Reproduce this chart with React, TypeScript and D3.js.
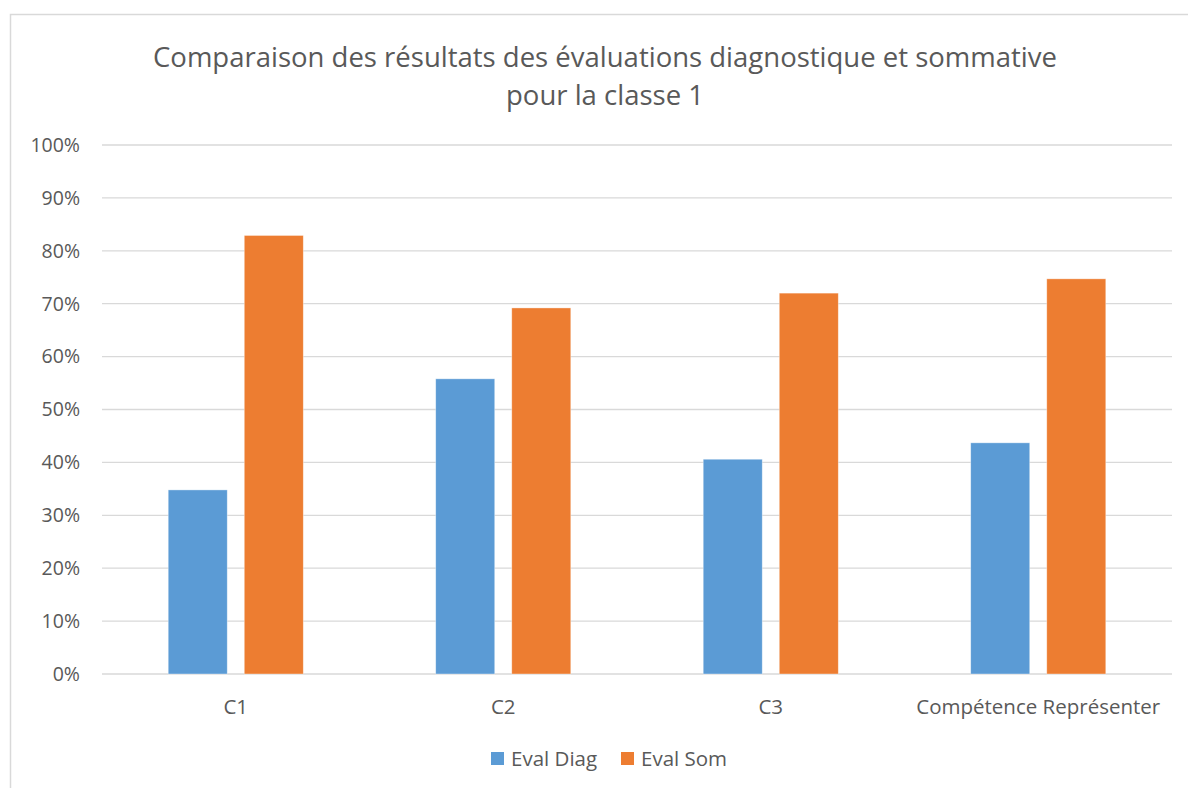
import React, { useEffect, useRef } from 'react';
import * as d3 from 'd3';

const categories = ['C1', 'C2', 'C3', 'Compétence Représenter'];
const seriesNames = ['Eval Diag', 'Eval Som'];
const evalDiag = [0.348, 0.558, 0.406, 0.437];
const evalSom = [0.829, 0.692, 0.72, 0.747];
const yTicks = [0, 0.1, 0.2, 0.3, 0.4, 0.5, 0.6, 0.7, 0.8, 0.9, 1];
const titleLines = ['Comparaison des résultats des évaluations diagnostique et sommative', 'pour la classe 1'];

const colors = ['#5B9BD5', '#ED7D31'];
const FONT = '"Open Sans", "Noto Sans", sans-serif';

const App = () => {
  const svgRef = useRef<SVGSVGElement>(null);

  useEffect(() => {
    const svg = d3.select(svgRef.current);
    svg.selectAll('*').remove();

    const plot = { left: 102, right: 1172, top: 145, bottom: 674 };

    // chart frame
    svg.append('rect')
      .attr('x', 10.5).attr('y', 14.5)
      .attr('width', 1190).attr('height', 800)
      .attr('fill', '#fff')
      .attr('stroke', '#D9D9D9')
      .attr('stroke-width', 1.5);

    // title
    const title = svg.append('text')
      .attr('text-anchor', 'middle')
      .attr('fill', '#595959')
      .attr('font-family', FONT)
      .attr('font-size', '27.5px');
    titleLines.forEach((t, i) => {
      title.append('tspan')
        .attr('x', 605)
        .attr('y', 67 + i * 38)
        .text(t);
    });

    const y = d3.scaleLinear().domain([0, 1]).range([plot.bottom, plot.top]);
    const x0 = d3.scaleBand<string>()
      .domain(categories)
      .range([plot.left, plot.right])
      .paddingInner(0.495)
      .paddingOuter(0.2475);
    const x1 = d3.scaleBand<string>()
      .domain(seriesNames)
      .range([0, x0.bandwidth()])
      .paddingInner(0.2237);

    // gridlines
    svg.append('g')
      .selectAll('line')
      .data(yTicks)
      .enter().append('line')
      .attr('x1', plot.left).attr('x2', plot.right)
      .attr('y1', d => y(d)).attr('y2', d => y(d))
      .attr('stroke', '#D9D9D9')
      .attr('stroke-width', 1.3);

    // y tick labels
    svg.append('g')
      .selectAll('text')
      .data(yTicks)
      .enter().append('text')
      .attr('x', 80)
      .attr('y', d => y(d))
      .attr('dy', '0.35em')
      .attr('text-anchor', 'end')
      .attr('fill', '#595959')
      .attr('font-family', FONT)
      .attr('font-size', '19.5px')
      .text(d => `${Math.round(d * 100)}%`);

    // bars
    const series = [evalDiag, evalSom];
    const groups = svg.append('g')
      .selectAll('g')
      .data(categories)
      .enter().append('g')
      .attr('transform', d => `translate(${x0(d)},0)`);

    groups.selectAll('rect')
      .data((d, i) => seriesNames.map((s, j) => ({ s, j, v: series[j][i] })))
      .enter().append('rect')
      .attr('x', d => x1(d.s)!)
      .attr('width', x1.bandwidth())
      .attr('y', d => y(d.v))
      .attr('height', d => y(0) - y(d.v))
      .attr('fill', d => colors[d.j])
      .attr('stroke', '#fff')
      .attr('stroke-opacity', 0.5)
      .attr('stroke-width', 0.75);

    // category labels
    svg.append('g')
      .selectAll('text')
      .data(categories)
      .enter().append('text')
      .attr('x', d => x0(d)! + x0.bandwidth() / 2)
      .attr('y', 707)
      .attr('dy', '0.35em')
      .attr('text-anchor', 'middle')
      .attr('fill', '#595959')
      .attr('font-family', FONT)
      .attr('font-size', '20.5px')
      .text(d => d);

    // legend
    const legendX = [491, 621];
    const legend = svg.append('g')
      .selectAll('g')
      .data(seriesNames)
      .enter().append('g')
      .attr('transform', (d, i) => `translate(${legendX[i]},752)`);
    legend.append('rect')
      .attr('width', 13).attr('height', 13)
      .attr('fill', (d, i) => colors[i]);
    legend.append('text')
      .attr('x', 20)
      .attr('y', 6.5)
      .attr('dy', '0.35em')
      .attr('fill', '#595959')
      .attr('font-family', FONT)
      .attr('font-size', '20.5px')
      .text(d => d);
  }, []);

  return (
    <svg
      ref={svgRef}
      width={1188}
      height={788}
      style={{ position: 'absolute', left: 0, top: 0, display: 'block' }}
    />
  );
};

export default App;
